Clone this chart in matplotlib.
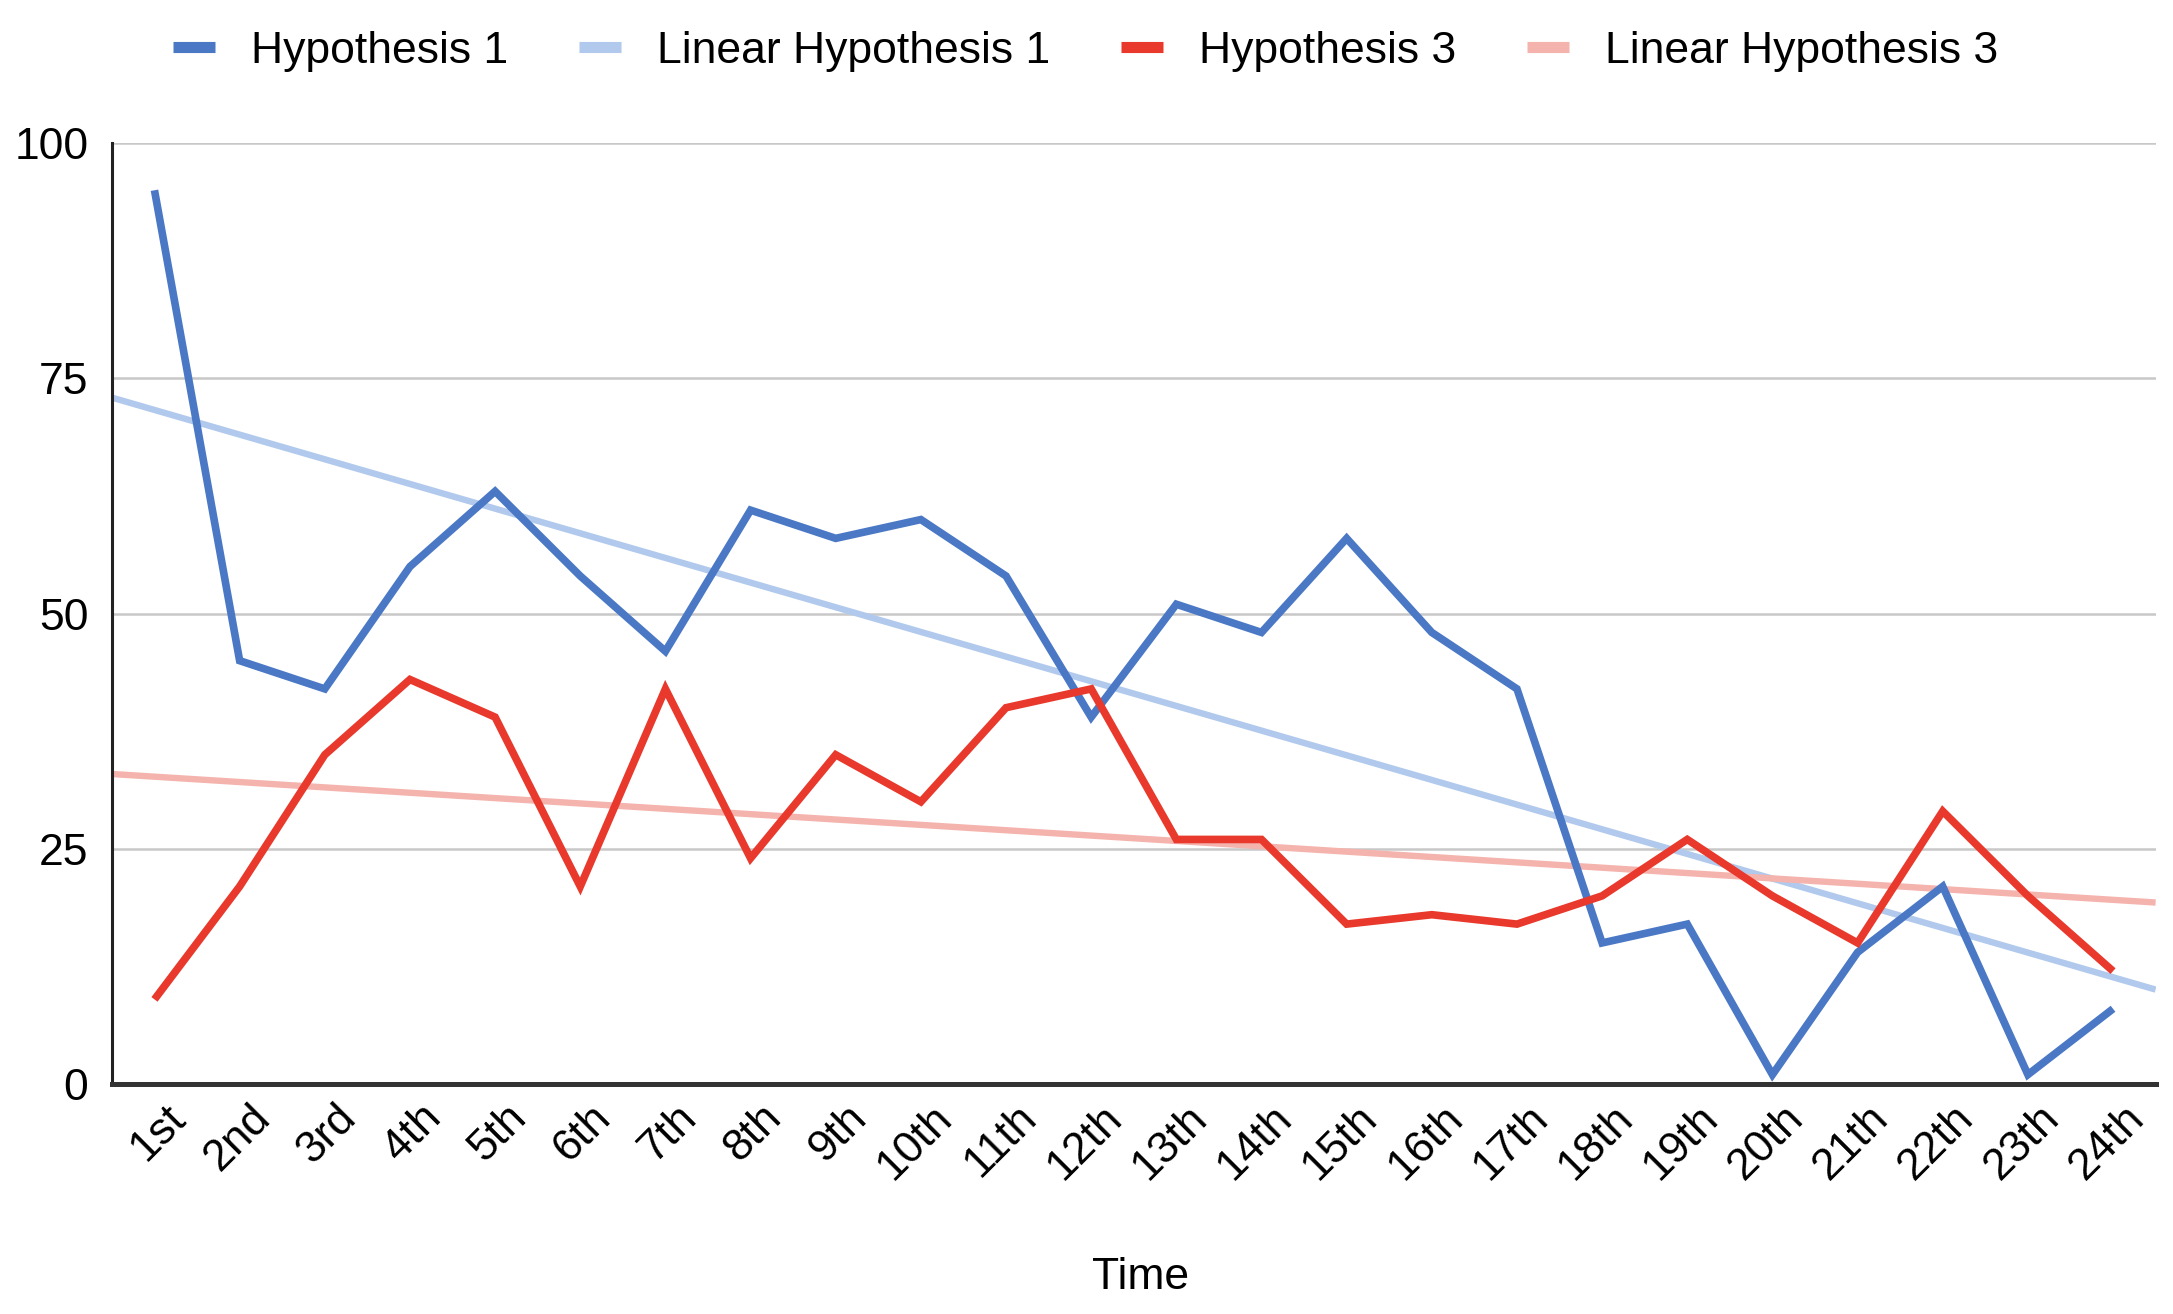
import numpy as np
import matplotlib
matplotlib.use("Agg")
import matplotlib.pyplot as plt
from matplotlib.lines import Line2D
import matplotlib.transforms as mtransforms

plt.rcParams['font.family'] = ['Liberation Sans', 'DejaVu Sans']

categories = ["1st", "2nd", "3rd", "4th", "5th", "6th", "7th", "8th", "9th", "10th",
              "11th", "12th", "13th", "14th", "15th", "16th", "17th", "18th", "19th",
              "20th", "21th", "22th", "23th", "24th"]
hyp1 = [95, 45, 42, 55, 63, 54, 46, 61, 58, 60, 54, 39, 51, 48, 58, 48, 42, 15, 17, 1, 14, 21, 1, 8]
hyp3 = [9, 21, 35, 43, 39, 21, 42, 24, 35, 30, 40, 42, 26, 26, 17, 18, 17, 20, 26, 20, 15, 29, 20, 12]
yticks = [0, 25, 50, 75, 100]

c_h1 = "#4a78c5"
c_l1 = "#b1c9ec"
c_h3 = "#e8392c"
c_l3 = "#f5b3ad"

FS = 32

fig = plt.figure(figsize=(21.73, 13.14), dpi=100)
ax = fig.add_axes([0.0515, 0.175, 0.9405, 0.716])

x = np.arange(1, len(categories) + 1)
xe = np.array([0.5, len(categories) + 0.5])

p1 = np.polyfit(x, hyp1, 1)
p3 = np.polyfit(x, hyp3, 1)

ax.plot(xe, np.polyval(p1, xe), color=c_l1, lw=4.6, solid_capstyle='butt', zorder=2)
ax.plot(xe, np.polyval(p3, xe), color=c_l3, lw=4.6, solid_capstyle='butt', zorder=2)
ax.plot(x, hyp1, color=c_h1, lw=5.5, zorder=3, solid_joinstyle='miter', solid_capstyle='butt')
ax.plot(x, hyp3, color=c_h3, lw=5.5, zorder=4, solid_joinstyle='miter', solid_capstyle='butt')

ax.set_xlim(0.5, len(categories) + 0.5)
ax.set_ylim(0, 100)
ax.set_yticks(yticks)
ax.set_yticklabels([str(v) for v in yticks])
ax.set_xticks(x)
ax.set_xticklabels(categories, rotation=45, ha='right', va='top', rotation_mode='anchor')
ax.tick_params(axis='both', length=0, labelsize=FS)
ax.tick_params(axis='y', pad=17)
ax.tick_params(axis='x', pad=0)
off = mtransforms.ScaledTranslation(0.10, -0.13, fig.dpi_scale_trans)
for lab in ax.get_xticklabels():
    lab.set_transform(lab.get_transform() + off)
ax.grid(axis='y', color='#c8c8c8', lw=1.8)
ax.set_axisbelow(True)
for s in ['top', 'right']:
    ax.spines[s].set_visible(False)
ax.spines['left'].set_color('#222222')
ax.spines['left'].set_linewidth(2.2)
ax.spines['bottom'].set_color('#333333')
ax.spines['bottom'].set_linewidth(3.6)
ax.spines['bottom'].set_zorder(5)

fig.text(0.525, 0.028, "Time", ha='center', va='center', fontsize=FS)

handles = [Line2D([], [], color=c, lw=8, solid_capstyle='butt') for c in [c_h1, c_l1, c_h3, c_l3]]
labels = ["Hypothesis 1", "Linear Hypothesis 1", "Hypothesis 3", "Linear Hypothesis 3"]
fig.legend(handles, labels, loc='center', bbox_to_anchor=(0.4995, 0.961), ncol=4,
           frameon=False, fontsize=FS, handlelength=0.95, handletextpad=0.8, columnspacing=1.6)

fig.savefig("out.png", dpi=100, facecolor='white')
